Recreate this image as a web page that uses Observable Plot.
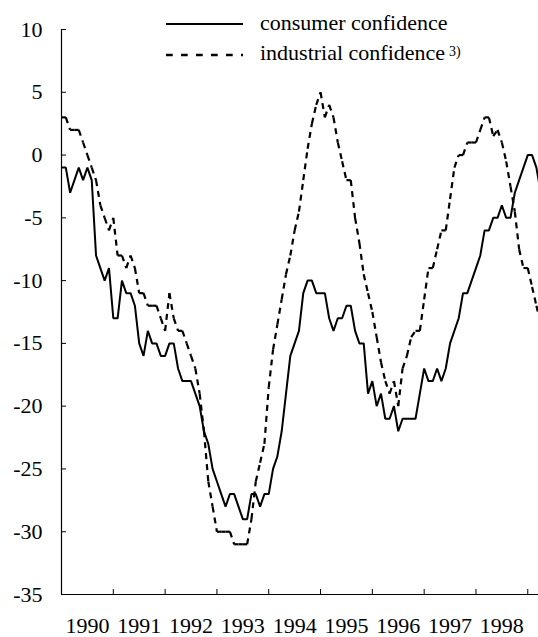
<!DOCTYPE html>
<html>
<head>
<meta charset="utf-8">
<script src="https://cdn.jsdelivr.net/npm/d3@7"></script>
<script src="https://cdn.jsdelivr.net/npm/@observablehq/plot@0.6"></script>
<style>
  body { margin: 0; background: #fff; }
  #wrap { position: relative; width: 538px; height: 637px; font-family: "Liberation Serif", Tinos, "Times New Roman", Times, "DejaVu Serif", serif; color: #000; }
  #wrap svg text { font-family: "Liberation Serif", Tinos, "Times New Roman", Times, "DejaVu Serif", serif; }
  .legsw { position: absolute; left: 166px; }
  .legtx { position: absolute; left: 260px; font-size: 22px; line-height: 22px; white-space: nowrap; }
  .sup { font-size: 14px; position: relative; top: -4px; margin-left: 4px; }
</style>
</head>
<body>
<div id="wrap"></div>
<script>
// ---- data (monthly, starting January 1990) ----
const startYear = 1990;
const seriesNames = ["consumer confidence", "industrial confidence"];
const footnote = "3)";
const yearLabels = ["1990", "1991", "1992", "1993", "1994", "1995", "1996", "1997", "1998"];
const yTicks = [10, 5, 0, -5, -10, -15, -20, -25, -30, -35];

const consumer = [
  -1, -1, -3, -2, -1, -2, -1, -2, -8, -9, -10, -9,
  -13, -13, -10, -11, -11, -12, -15, -16, -14, -15, -15, -16,
  -16, -15, -15, -17, -18, -18, -18, -19, -20, -22, -23, -25,
  -26, -27, -28, -27, -27, -28, -29, -29, -27, -27, -28, -27,
  -27, -25, -24, -22, -19, -16, -15, -14, -11, -10, -10, -11,
  -11, -11, -13, -14, -13, -13, -12, -12, -14, -15, -15, -19,
  -18, -20, -19, -21, -21, -20, -22, -21, -21, -21, -21, -19,
  -17, -18, -18, -17, -18, -17, -15, -14, -13, -11, -11, -10,
  -9, -8, -6, -6, -5, -5, -4, -5, -5, -3, -2, -1,
  0, 0, -1, -3
];

const industrial = [
  3, 3, 2, 2, 2, 1, 0, -1, -2, -4, -5, -6,
  -5, -8, -8, -9, -8, -9, -11, -11, -12, -12, -12, -13,
  -14, -11, -13, -14, -14, -15, -16, -17, -19, -22, -26, -28,
  -30, -30, -30, -30, -31, -31, -31, -31, -29, -26, -24.5, -23,
  -18.5, -15.5, -13.5, -11.5, -9.5, -8, -6, -4.5, -2, 0.5, 2.5, 4,
  5, 3, 4, 3, 1, -0.5, -2, -2, -5, -7, -9.5, -11,
  -12.5, -14.5, -16.5, -18, -19, -18, -20, -17, -16, -14.5, -14, -14,
  -11.5, -9, -9, -7.5, -6, -6, -3.5, -1, 0, 0, 1, 1,
  1, 2, 3, 3, 1.5, 2, 1, -0.5, -2.5, -4.5, -7.5, -9,
  -9, -10.5, -12, -13.5
];

// ---- derived tables ----
const cons = consumer.map((v, i) => ({t: startYear + i / 12, v}));
const indSegs = industrial.slice(0, -1).map((v, i) => ({
  t1: startYear + i / 12, v1: v,
  t2: startYear + (i + 1) / 12, v2: industrial[i + 1]
}));
const yearBounds = yearLabels.map(y => +y).concat([+yearLabels[yearLabels.length - 1] + 1]);
const yearMids = yearLabels.map(y => +y + 0.5);
const xEnd = 1999.207;

const font = '"Liberation Serif", Tinos, "Times New Roman", Times, "DejaVu Serif", serif';

const chart = Plot.plot({
  width: 538,
  height: 637,
  marginLeft: 61,
  marginRight: 0,
  marginTop: 29,
  marginBottom: 43,
  style: {fontFamily: font, fontSize: "22px", background: "white", color: "black", overflow: "visible"},
  x: {domain: [startYear, xEnd]},
  y: {domain: [-35, 10]},
  marks: [
    Plot.axisY(yTicks, {tickSize: -5, tickPadding: 24, tickFormat: d => String(d), fontSize: 22, fontFamily: font, stroke: "black", strokeWidth: 1}),
    Plot.axisX(yearBounds, {tickSize: -5, tickFormat: () => "", stroke: "black", strokeWidth: 1}),
    Plot.axisX(yearMids, {tickSize: 0, tickPadding: 23, tickFormat: d => String(Math.floor(d)), fontSize: 22, fontFamily: font}),
    Plot.ruleX([startYear], {stroke: "black", strokeWidth: 1.2}),
    Plot.ruleY([-35], {stroke: "black", strokeWidth: 1.2}),
    Plot.line(cons, {x: "t", y: "v", stroke: "black", strokeWidth: 2, strokeLinejoin: "miter", clip: true}),
    Plot.link(indSegs, {x1: "t1", y1: "v1", x2: "t2", y2: "v2", stroke: "black", strokeWidth: 2.2, strokeDasharray: "6,5", clip: true})
  ]
});

const wrap = document.getElementById("wrap");
wrap.appendChild(chart);

// legend overlay
const ns = "http://www.w3.org/2000/svg";
function swatch(top, dash) {
  const s = document.createElementNS(ns, "svg");
  s.setAttribute("class", "legsw");
  s.setAttribute("width", "78");
  s.setAttribute("height", "10");
  s.style.top = (top - 5) + "px";
  const l = document.createElementNS(ns, "line");
  l.setAttribute("x1", "0"); l.setAttribute("x2", "77");
  l.setAttribute("y1", "5"); l.setAttribute("y2", "5");
  l.setAttribute("stroke", "black");
  l.setAttribute("stroke-width", dash ? "2.4" : "2");
  if (dash) l.setAttribute("stroke-dasharray", dash);
  s.appendChild(l);
  wrap.appendChild(s);
}
function label(top, text, sup) {
  const d = document.createElement("div");
  d.className = "legtx";
  d.style.top = top + "px";
  d.textContent = text;
  if (sup) {
    const s = document.createElement("span");
    s.className = "sup";
    s.textContent = sup;
    d.appendChild(s);
  }
  wrap.appendChild(d);
}
swatch(24, null);
swatch(55, "6.7,8.3");
label(12, seriesNames[0]);
label(42, seriesNames[1], footnote);
</script>
</body>
</html>
